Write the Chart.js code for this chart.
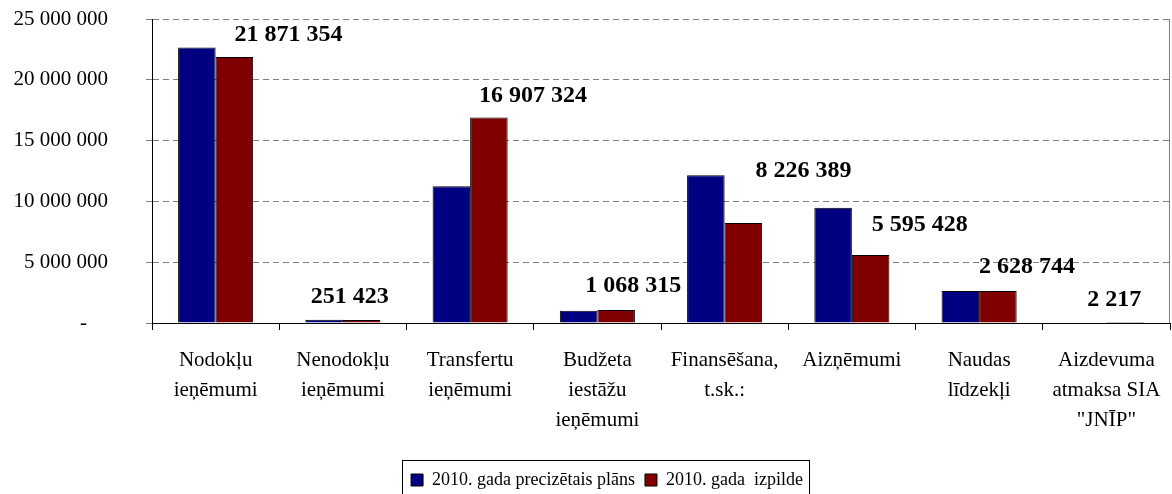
<!DOCTYPE html>
<html>
<head>
<meta charset="utf-8">
<script src="https://cdn.jsdelivr.net/npm/chart.js@4"></script>
<style>
  html, body { margin: 0; padding: 0; background: #fff; }
  #wrap { width: 1172px; height: 494px; }
</style>
</head>
<body>
<div id="wrap"><canvas id="c"></canvas></div>
<script>
const categories = [
  ['Nodokļu', 'ieņēmumi'],
  ['Nenodokļu', 'ieņēmumi'],
  ['Transfertu', 'ieņēmumi'],
  ['Budžeta', 'iestāžu', 'ieņēmumi'],
  ['Finansēšana,', 't.sk.:'],
  ['Aizņēmumi'],
  ['Naudas', 'līdzekļi'],
  ['Aizdevuma', 'atmaksa SIA', '"JNĪP"'],
]
const planLabel = '2010. gada precizētais plāns'
const doneLabel = '2010. gada  izpilde'
const planValues = [22650000, 260000, 11250000, 1010000, 12160000, 9470000, 2630000, 0]
const doneValues = [21871354, 251423, 16907324, 1068315, 8226389, 5595428, 2628744, 2217]

// Excel labels were dragged by hand; nudge each one relative to its bar top
const labelNudge = [[54, -22], [-12, -23], [44, -22], [17, -24], [60, -52], [49, -30], [29, -24], [-11, -23]]

const SERIF = '"Liberation Serif", "Times New Roman", serif'
const LEGEND_SHIFT = 22

function fmt(v) {
  return String(Math.round(v)).replace(/\B(?=(\d{3})+(?!\d))/g, ' ')
}

const valueLabels = {
  id: 'valueLabels',
  afterDatasetsDraw(chart) {
    const { ctx } = chart
    const meta = chart.getDatasetMeta(1)
    ctx.save()
    ctx.font = 'bold 24px ' + SERIF
    ctx.fillStyle = '#000'
    ctx.textAlign = 'center'
    ctx.textBaseline = 'middle'
    meta.data.forEach((bar, i) => {
      const [dx, dy] = labelNudge[i]
      ctx.fillText(fmt(doneValues[i]), bar.x + dx, bar.y + dy)
    })
    ctx.restore()
  },
}

/**
 * Legend sits a bit right of centre in the original; also draws the box round it
 * and the grey right edge of the plot.
 */
const frame = {
  id: 'frame',
  afterLayout(chart) {
    chart.legend.left += LEGEND_SHIFT
    chart.legend.right += LEGEND_SHIFT
  },
  afterDraw(chart) {
    const { ctx, chartArea: { top, right, bottom }, legend } = chart
    ctx.save()
    ctx.strokeStyle = '#808080'
    ctx.lineWidth = 1
    ctx.beginPath()
    ctx.moveTo(right - 0.5, top)
    ctx.lineTo(right - 0.5, bottom)
    ctx.stroke()

    const pad = legend.options.labels.padding
    const lw = legend.lineWidths[0]
    const x0 = (legend.left + pad + legend.right - lw) / 2
    const l = x0 - 9
    const r = x0 + lw - pad + 6
    const t = legend.top + pad - 11
    ctx.strokeStyle = '#000'
    ctx.strokeRect(Math.round(l) + 0.5, Math.round(t) + 0.5, Math.round(r - l), 60)
    ctx.restore()
  },
}

new Chart(document.getElementById('c'), {
  type: 'bar',
  data: {
    labels: categories,
    datasets: [
      {
        label: planLabel,
        data: planValues,
        backgroundColor: '#000080',
        borderColor: '#000',
        borderWidth: 1,
        categoryPercentage: 0.59,
        barPercentage: 1,
      },
      {
        label: doneLabel,
        data: doneValues,
        backgroundColor: '#800000',
        borderColor: '#000',
        borderWidth: 1,
        categoryPercentage: 0.59,
        barPercentage: 1,
      },
    ],
  },
  options: {
    responsive: true,
    maintainAspectRatio: false,
    animation: false,
    layout: { padding: { top: 19, right: 2, left: 0, bottom: -5 } },
    plugins: {
      tooltip: { enabled: false },
      legend: {
        position: 'bottom',
        labels: {
          color: '#000',
          font: { family: SERIF, size: 18 },
          boxWidth: 12,
          boxHeight: 12,
          padding: 10,
        },
      },
    },
    scales: {
      x: {
        afterFit: (s) => {
          s.height = 138
          s.paddingLeft = 0
          s.paddingRight = 0
        },
        grid: {
          offset: true,
          drawOnChartArea: false,
          drawTicks: true,
          tickLength: 7,
          tickColor: '#000',
        },
        border: { color: '#000', width: 1 },
        ticks: {
          color: '#000',
          padding: 15,
          maxRotation: 0,
          autoSkip: false,
          font: { family: SERIF, size: 21, lineHeight: 1.43 },
        },
      },
      y: {
        min: 0,
        max: 25000000,
        afterFit: (s) => {
          s.width = 152
          s.paddingTop = 0
          s.paddingBottom = 0
        },
        grid: {
          color: (ctx) => ctx.tick.value === 0 ? 'rgba(0,0,0,0)' : '#808080',
          tickColor: '#808080',
          tickLength: 6,
          tickBorderDash: [],
        },
        border: { color: '#000', width: 1, dash: [6, 4] },
        ticks: {
          stepSize: 5000000,
          color: '#000',
          padding: 38,
          font: { family: SERIF, size: 21 },
          callback: (v) => v === 0 ? '-    ' : fmt(v),
        },
      },
    },
  },
  plugins: [valueLabels, frame],
})
</script>
</body>
</html>
